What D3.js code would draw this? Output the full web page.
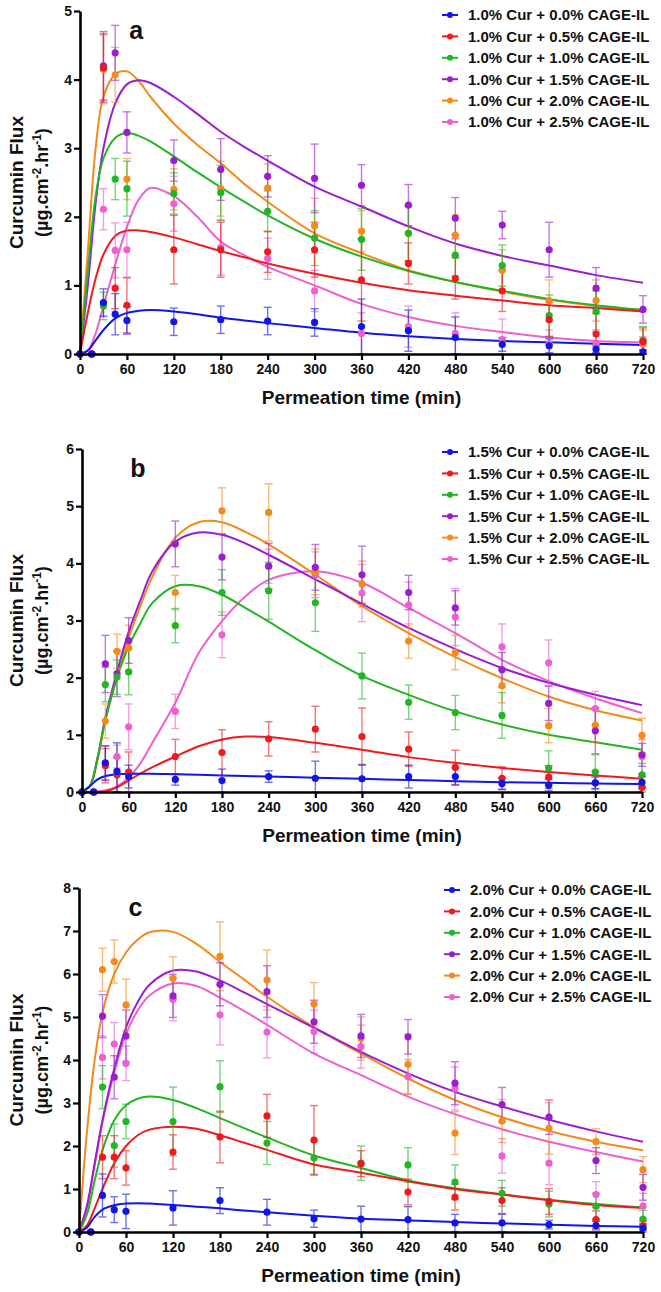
<!DOCTYPE html>
<html>
<head>
<meta charset="utf-8">
<script src="https://cdn.jsdelivr.net/npm/d3@7"></script>
<style>
  body { margin: 0; background: #fff; }
  text { font-family: Arial, "Liberation Sans", sans-serif; font-weight: bold; fill: #111; }
</style>
</head>
<body>
<svg id="chart" width="661" height="1292"></svg>
<script>
// sampling times (min)
const times = [0, 15, 30, 45, 60, 120, 180, 240, 300, 360, 420, 480, 540, 600, 660, 720]
const fitTimes = [0, 10, 20, 30, 45, 60, 75, 90, 120, 150, 180, 210, 240, 300, 360, 420, 480, 540, 600, 660, 720]
const xTicks = [0, 60, 120, 180, 240, 300, 360, 420, 480, 540, 600, 660, 720]
const cageLevels = ["0.0", "0.5", "1.0", "1.5", "2.0", "2.5"]
const curLevels = ["1.0", "1.5", "2.0"]
const panelLetters = ["a", "b", "c"]
const yMaxes = [5, 6, 8]
const colors = ["#1016e6", "#ee1a1e", "#22b524", "#9a1ed0", "#f58a1c", "#ee5fcf"]

// panel a : 1.0% Cur  (rows = 0.0, 0.5, 1.0, 1.5, 2.0, 2.5 % CAGE-IL)
const aMean = [
  [0, 0, 0.75, 0.58, 0.49, 0.47, 0.50, 0.48, 0.46, 0.40, 0.34, 0.24, 0.14, 0.12, 0.07, 0.03],
  [0, 0, 4.17, 0.96, 0.71, 1.52, 1.52, 1.49, 1.52, 1.08, 1.32, 1.10, 0.92, 0.50, 0.29, 0.18],
  [0, 0, 0.70, 2.55, 2.41, 2.34, 2.35, 2.08, 1.69, 1.67, 1.76, 1.44, 1.29, 0.56, 0.62, 0.20],
  [0, 0, 4.20, 4.39, 3.23, 2.82, 2.69, 2.59, 2.56, 2.46, 2.17, 1.98, 1.88, 1.52, 0.96, 0.65],
  [0, 0, 4.15, 4.07, 2.55, 2.40, 2.41, 2.42, 1.87, 1.79, 1.76, 1.73, 1.22, 0.78, 0.78, 0.15],
  [0, 0, 2.11, 1.51, 1.52, 2.19, 1.55, 1.39, 0.92, 0.30, 0.40, 0.30, 0.21, 0.15, 0.15, 0.15]
]
const aSd = [
  [0, 0, 0.20, 0.30, 0.20, 0.20, 0.20, 0.20, 0.20, 0.40, 0.30, 0.30, 0.10, 0.10, 0.05, 0.03],
  [0, 0, 0.50, 0.30, 0.40, 0.50, 0.40, 0.30, 0.40, 0.60, 0.30, 0.30, 0.30, 0.25, 0.30, 0.20],
  [0, 0, 0.20, 0.30, 0.40, 0.30, 0.40, 0.30, 0.40, 0.45, 0.40, 0.30, 0.30, 0.30, 0.30, 0.20],
  [0, 0, 0.50, 0.40, 0.30, 0.30, 0.45, 0.30, 0.50, 0.30, 0.30, 0.30, 0.20, 0.40, 0.30, 0.20],
  [0, 0, 0.50, 0.40, 0.30, 0.30, 0.40, 0.35, 0.40, 0.30, 0.40, 0.30, 0.30, 0.30, 0.30, 0.20],
  [0, 0, 0.30, 0.40, 0.40, 0.40, 0.40, 0.30, 0.30, 0.30, 0.30, 0.30, 0.30, 0.20, 0.20, 0.10]
]
const aFit = [
  [0, 0.05, 0.20, 0.35, 0.52, 0.60, 0.63, 0.64, 0.62, 0.58, 0.53, 0.49, 0.45, 0.38, 0.31, 0.26, 0.22, 0.19, 0.17, 0.15, 0.13],
  [0, 0.60, 1.10, 1.45, 1.72, 1.80, 1.80, 1.78, 1.70, 1.60, 1.50, 1.41, 1.32, 1.17, 1.04, 0.93, 0.85, 0.78, 0.71, 0.67, 0.62],
  [0, 1.20, 2.30, 2.85, 3.15, 3.22, 3.18, 3.10, 2.88, 2.65, 2.43, 2.22, 2.02, 1.68, 1.42, 1.21, 1.05, 0.92, 0.80, 0.71, 0.64],
  [0, 1.00, 2.20, 3.00, 3.65, 3.93, 3.99, 3.95, 3.75, 3.50, 3.24, 3.02, 2.82, 2.44, 2.15, 1.86, 1.61, 1.43, 1.29, 1.15, 1.04],
  [0, 1.50, 3.00, 3.75, 4.08, 4.12, 3.98, 3.75, 3.36, 3.05, 2.78, 2.48, 2.22, 1.76, 1.47, 1.22, 1.05, 0.91, 0.79, 0.70, 0.64],
  [0, 0.05, 0.30, 0.70, 1.30, 1.85, 2.25, 2.42, 2.30, 2.00, 1.64, 1.44, 1.27, 1.00, 0.73, 0.54, 0.41, 0.32, 0.24, 0.19, 0.17]
]

// panel b : 1.5% Cur
const bMean = [
  [0, 0, 0.51, 0.36, 0.27, 0.22, 0.20, 0.27, 0.24, 0.23, 0.27, 0.27, 0.15, 0.12, 0.16, 0.17],
  [0, 0, 0.46, 0.30, 0.35, 0.62, 0.69, 0.93, 1.10, 0.97, 0.75, 0.43, 0.24, 0.26, 0.16, 0.08],
  [0, 0, 1.88, 2.01, 2.10, 2.91, 3.49, 3.52, 3.31, 2.03, 1.57, 1.39, 1.34, 0.42, 0.35, 0.30],
  [0, 0, 2.24, 2.07, 2.65, 4.34, 4.11, 3.95, 3.93, 3.80, 3.49, 3.22, 2.14, 1.55, 1.07, 0.65],
  [0, 0, 1.24, 2.46, 2.52, 3.49, 4.92, 4.89, 3.85, 3.64, 2.64, 2.44, 1.86, 1.16, 1.17, 0.99],
  [0, 0, 0.50, 0.62, 1.14, 1.41, 2.75, 3.95, 3.80, 3.48, 3.27, 3.06, 2.54, 2.26, 1.46, 0.62]
]
const bSd = [
  [0, 0, 0.30, 0.50, 0.20, 0.10, 0.20, 0.10, 0.30, 0.25, 0.20, 0.15, 0.10, 0.10, 0.10, 0.10],
  [0, 0, 0.30, 0.30, 0.35, 0.30, 0.40, 0.30, 0.40, 0.50, 0.30, 0.30, 0.20, 0.20, 0.20, 0.20],
  [0, 0, 0.30, 0.30, 0.40, 0.30, 0.40, 0.50, 0.50, 0.40, 0.30, 0.30, 0.40, 0.30, 0.30, 0.20],
  [0, 0, 0.50, 0.40, 0.40, 0.40, 0.40, 0.40, 0.40, 0.50, 0.30, 0.30, 0.30, 0.30, 0.40, 0.20],
  [0, 0, 0.30, 0.30, 0.40, 0.30, 0.40, 0.50, 0.40, 0.40, 0.30, 0.30, 0.30, 0.30, 0.30, 0.30],
  [0, 0, 0.30, 0.20, 0.40, 0.30, 0.40, 0.30, 0.40, 0.50, 0.40, 0.50, 0.40, 0.40, 0.30, 0.30]
]
const bFit = [
  [0, 0.10, 0.22, 0.28, 0.31, 0.32, 0.32, 0.32, 0.31, 0.30, 0.29, 0.28, 0.27, 0.25, 0.23, 0.21, 0.19, 0.17, 0.16, 0.15, 0.14],
  [0, 0, 0, 0.01, 0.08, 0.20, 0.32, 0.43, 0.62, 0.80, 0.92, 0.97, 0.96, 0.86, 0.74, 0.61, 0.51, 0.42, 0.35, 0.29, 0.23],
  [0, 0.10, 0.60, 1.25, 2.00, 2.55, 2.95, 3.30, 3.60, 3.60, 3.45, 3.22, 2.98, 2.48, 2.03, 1.70, 1.41, 1.18, 1.00, 0.87, 0.74],
  [0, 0.10, 0.60, 1.30, 2.10, 2.80, 3.35, 3.85, 4.38, 4.54, 4.50, 4.35, 4.15, 3.72, 3.29, 2.87, 2.50, 2.17, 1.91, 1.70, 1.52],
  [0, 0.10, 0.55, 1.25, 2.00, 2.70, 3.25, 3.75, 4.45, 4.72, 4.72, 4.55, 4.33, 3.80, 3.25, 2.78, 2.36, 1.99, 1.67, 1.43, 1.25],
  [0, 0, 0.01, 0.03, 0.10, 0.25, 0.50, 0.85, 1.56, 2.43, 2.99, 3.42, 3.71, 3.86, 3.66, 3.22, 2.78, 2.31, 1.94, 1.64, 1.38]
]

// panel c : 2.0% Cur
const cMean = [
  [0, 0, 0.85, 0.52, 0.48, 0.56, 0.73, 0.46, 0.31, 0.30, 0.29, 0.21, 0.21, 0.17, 0.15, 0.09],
  [0, 0, 1.74, 1.74, 1.49, 1.86, 2.21, 2.70, 2.14, 1.59, 0.93, 0.81, 0.73, 0.71, 0.29, 0.15],
  [0, 0, 3.37, 2.01, 2.57, 2.57, 3.38, 2.07, 1.72, 1.60, 1.56, 1.16, 0.90, 0.65, 0.60, 0.30],
  [0, 0, 5.02, 3.60, 4.56, 5.49, 5.76, 5.59, 4.89, 4.56, 4.54, 3.46, 2.96, 2.67, 1.66, 1.04],
  [0, 0, 6.10, 6.29, 5.28, 5.90, 6.41, 5.86, 5.30, 4.50, 3.90, 2.30, 2.58, 2.41, 2.10, 1.45],
  [0, 0, 4.06, 4.37, 3.92, 5.41, 5.05, 4.65, 4.66, 4.31, 3.61, 3.34, 1.77, 1.60, 0.87, 0.60]
]
const cSd = [
  [0, 0, 0.50, 0.30, 0.40, 0.40, 0.30, 0.30, 0.20, 0.30, 0.30, 0.20, 0.20, 0.10, 0.10, 0.10],
  [0, 0, 0.50, 0.50, 0.40, 0.40, 0.60, 0.50, 0.80, 0.30, 0.30, 0.30, 0.30, 0.30, 0.20, 0.10],
  [0, 0, 0.50, 0.50, 0.40, 0.80, 0.60, 0.50, 0.40, 0.40, 0.40, 0.40, 0.30, 0.30, 0.30, 0.20],
  [0, 0, 0.50, 0.50, 0.60, 0.50, 0.50, 0.60, 0.50, 0.50, 0.40, 0.50, 0.40, 0.40, 0.30, 0.30],
  [0, 0, 0.50, 0.50, 0.60, 0.50, 0.80, 0.70, 0.50, 0.50, 0.70, 0.50, 0.50, 0.60, 0.30, 0.30],
  [0, 0, 0.50, 0.50, 0.40, 0.50, 0.70, 0.60, 0.50, 0.50, 0.40, 0.50, 0.40, 0.50, 0.30, 0.30]
]
const cFit = [
  [0, 0.10, 0.35, 0.52, 0.62, 0.66, 0.67, 0.66, 0.63, 0.59, 0.55, 0.50, 0.46, 0.38, 0.31, 0.27, 0.23, 0.20, 0.17, 0.14, 0.12],
  [0, 0.15, 0.55, 1.00, 1.60, 2.00, 2.25, 2.38, 2.45, 2.40, 2.25, 2.08, 1.91, 1.57, 1.38, 1.18, 1.00, 0.87, 0.74, 0.63, 0.56],
  [0, 0.40, 1.20, 1.90, 2.60, 2.95, 3.10, 3.15, 3.07, 2.88, 2.65, 2.42, 2.20, 1.78, 1.49, 1.20, 1.02, 0.88, 0.75, 0.65, 0.57],
  [0, 0.60, 1.60, 2.60, 3.80, 4.75, 5.35, 5.75, 6.08, 6.06, 5.85, 5.58, 5.30, 4.75, 4.19, 3.69, 3.26, 2.92, 2.61, 2.34, 2.10],
  [0, 2.30, 4.00, 5.10, 6.00, 6.50, 6.80, 6.97, 6.98, 6.70, 6.28, 5.88, 5.47, 4.76, 4.15, 3.57, 3.07, 2.67, 2.35, 2.10, 1.90],
  [0, 0.55, 1.55, 2.55, 3.70, 4.60, 5.15, 5.50, 5.78, 5.72, 5.45, 5.15, 4.82, 4.15, 3.65, 3.15, 2.74, 2.39, 2.10, 1.86, 1.64]
]

var svg = d3.select("#chart")

var panels = [
  { mean: aMean, sd: aSd, fit: aFit, top: 11, bottom: 354, left: 80, right: 643, legendY: 15, legendX: 468 },
  { mean: bMean, sd: bSd, fit: bFit, top: 449, bottom: 792, left: 82, right: 642, legendY: 452, legendX: 468 },
  { mean: cMean, sd: cSd, fit: cFit, top: 888, bottom: 1232, left: 79, right: 643, legendY: 890, legendX: 470 }
]

panels.forEach(function(p, pi) {
  var g = svg.append("g")

  var x = d3.scaleLinear().domain([0, 720]).range([p.left, p.right])
  var y = d3.scaleLinear().domain([0, yMaxes[pi]]).range([p.bottom, p.top])

  // fitted curves
  var line = d3.line()
    .x(d => x(d[0]))
    .y(d => Math.min(y(d[1]), p.bottom))
    .curve(d3.curveCatmullRom.alpha(0.5))

  var order = d3.range(cageLevels.length).reverse() // blue ends on top

  order.forEach(function(si) {
    g.append("path")
      .attr("d", line(fitTimes.map((t, i) => [t, p.fit[si][i]])))
      .attr("fill", "none")
      .attr("stroke", colors[si])
      .attr("stroke-width", 2)
  })

  // error bars
  order.forEach(function(si) {
    var eb = g.append("g")
      .attr("stroke", colors[si])
      .attr("stroke-width", 1.4)
      .attr("opacity", 0.6)
    times.forEach(function(t, i) {
      var m = p.mean[si][i], s = p.sd[si][i]
      if (!s) return
      var lo = Math.max(0, m - s), hi = m + s
      eb.append("line").attr("x1", x(t)).attr("x2", x(t)).attr("y1", y(lo)).attr("y2", y(hi))
      eb.append("line").attr("x1", x(t) - 4).attr("x2", x(t) + 4).attr("y1", y(hi)).attr("y2", y(hi))
      eb.append("line").attr("x1", x(t) - 4).attr("x2", x(t) + 4).attr("y1", y(lo)).attr("y2", y(lo))
    })
  })

  // points
  order.forEach(function(si) {
    g.append("g").selectAll("circle")
      .data(p.mean[si])
      .enter().append("circle")
      .attr("cx", (d, i) => x(times[i]))
      .attr("cy", d => y(d))
      .attr("r", 3.6)
      .attr("fill", colors[si])
  })

  // axes
  var yAxis = g.append("g")
    .attr("transform", "translate(" + p.left + ",0)")
    .call(d3.axisLeft(y).ticks(yMaxes[pi]).tickSize(6).tickSizeOuter(0).tickPadding(2))
  var xAxis = g.append("g")
    .attr("transform", "translate(0," + p.bottom + ")")
    .call(d3.axisBottom(x).tickValues(xTicks).tickSize(6).tickSizeOuter(0).tickPadding(4))

  ;[yAxis, xAxis].forEach(function(ax) {
    ax.select(".domain").attr("stroke", "#000").attr("stroke-width", 2.6)
    ax.selectAll(".tick line").attr("stroke", "#000").attr("stroke-width", 2.2)
    ax.selectAll(".tick text").attr("font-size", 14).attr("fill", "#111")
      .style("font-family", "Arial, 'Liberation Sans', sans-serif").style("font-weight", "bold")
  })

  // axis titles
  g.append("text")
    .attr("x", (p.left + p.right) / 2)
    .attr("y", p.bottom + 50)
    .attr("text-anchor", "middle")
    .attr("font-size", 19)
    .text("Permeation time (min)")

  var cy = (p.top + p.bottom) / 2
  g.append("text")
    .attr("transform", "translate(23," + cy + ") rotate(-90)")
    .attr("text-anchor", "middle")
    .attr("font-size", 19)
    .text("Curcumin Flux")

  var unit = g.append("text")
    .attr("transform", "translate(48," + cy + ") rotate(-90)")
    .attr("text-anchor", "middle")
    .attr("font-size", 18)
  unit.append("tspan").text("(\u00b5g.cm")
  unit.append("tspan").attr("dy", -7).attr("font-size", 12).text("-2")
  unit.append("tspan").attr("dy", 7).text(".hr")
  unit.append("tspan").attr("dy", -7).attr("font-size", 12).text("-1")
  unit.append("tspan").attr("dy", 7).text(")")

  // panel letter
  g.append("text")
    .attr("x", x(72))
    .attr("y", p.top + 28)
    .attr("text-anchor", "middle")
    .attr("font-size", 25)
    .text(panelLetters[pi])

  // legend
  var lg = g.append("g")
  cageLevels.forEach(function(c, si) {
    var ly = p.legendY + si * 21.4
    lg.append("line")
      .attr("x1", p.legendX - 26).attr("x2", p.legendX - 10)
      .attr("y1", ly).attr("y2", ly)
      .attr("stroke", colors[si]).attr("stroke-width", 2)
    lg.append("circle")
      .attr("cx", p.legendX - 18).attr("cy", ly).attr("r", 3)
      .attr("fill", colors[si])
    lg.append("text")
      .attr("x", p.legendX).attr("y", ly).attr("dy", "0.36em")
      .attr("font-size", 15)
      .text(curLevels[pi] + "% Cur + " + c + "% CAGE-IL")
  })
})
</script>
</body>
</html>
